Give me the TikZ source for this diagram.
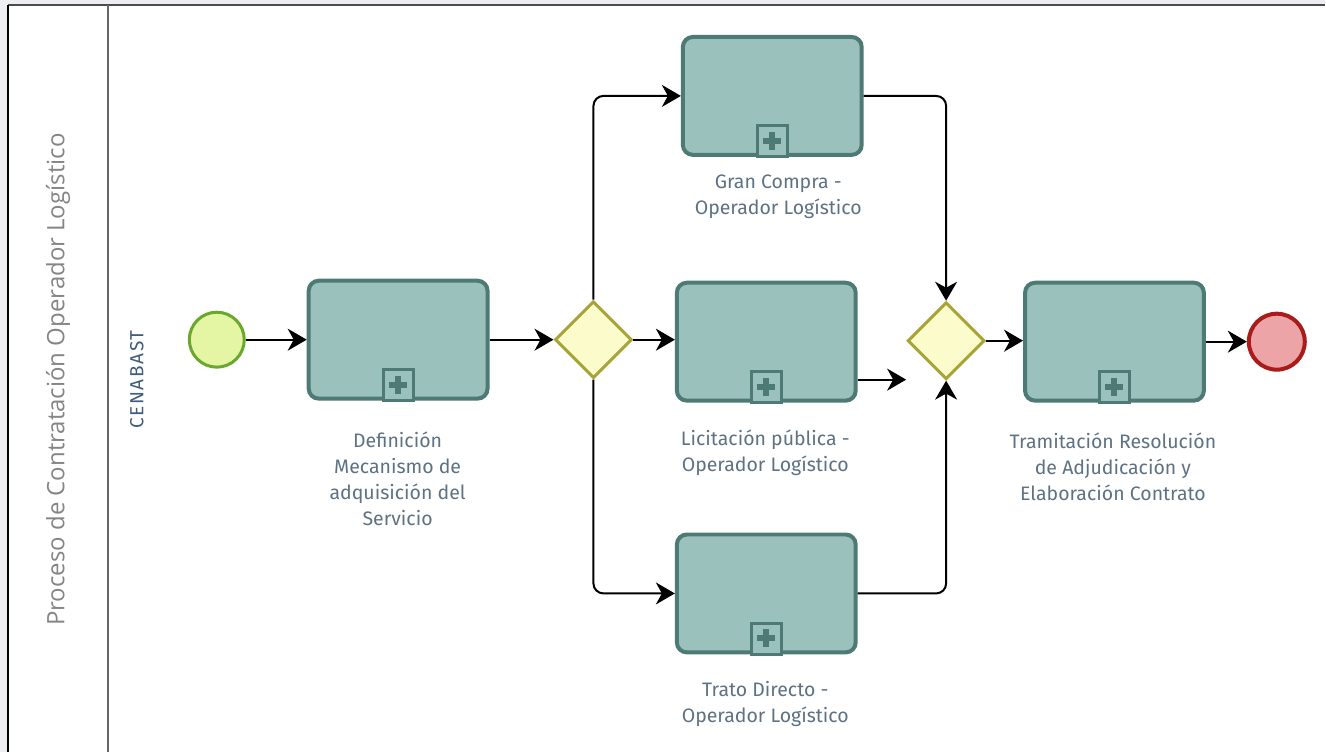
\documentclass[tikz,border=0pt]{standalone}
\usepackage{fontspec}
\setmainfont{Fira Sans}
\newfontfamily\poolfont{Open Sans}
\newfontfamily\lanefont[LetterSpace=9]{Fira Sans}
\usetikzlibrary{arrows.meta,shapes.geometric}

\definecolor{pagebg}{HTML}{ECEEF1}
\definecolor{taskfill}{HTML}{9BC1BC}
\definecolor{taskline}{HTML}{4D7A74}
\definecolor{startfill}{HTML}{E4F5A3}
\definecolor{startline}{HTML}{68A82C}
\definecolor{gwfill}{HTML}{FCFBCB}
\definecolor{gwline}{HTML}{A7A537}
\definecolor{endfill}{HTML}{EDA4A6}
\definecolor{endline}{HTML}{A81C1C}
\definecolor{labelcol}{HTML}{5E7282}
\definecolor{poolcol}{HTML}{858585}
\definecolor{lanecol}{HTML}{3E5C7C}

\tikzset{
  taskbox/.style={rectangle, rounded corners=10pt, draw=taskline, fill=taskfill,
    line width=4pt, minimum width=179pt, minimum height=118pt, inner sep=0pt},
  startev/.style={circle, draw=startline, fill=startfill, line width=3pt,
    minimum size=55pt, inner sep=0pt},
  endev/.style={circle, draw=endline, fill=endfill, line width=4pt,
    minimum size=56pt, inner sep=0pt},
  gateway/.style={diamond, aspect=1, draw=gwline, fill=gwfill, line width=3pt,
    minimum size=77pt, inner sep=0pt},
  tasklabel/.style={align=center, text=labelcol, inner sep=0pt,
    font=\fontsize{19.5}{26}\selectfont},
  flow/.style={draw=black, line width=2pt, rounded corners=10pt,
    -{Stealth[length=19pt,width=22pt,inset=6pt]}},
}

% collapsed sub-process marker at the bottom centre of a task
\newcommand{\subprocmark}[1]{%
  \draw[taskline, line width=3pt, fill=taskfill]
    ([xshift=-15pt]#1.south) rectangle ([xshift=15pt,yshift=31pt]#1.south);
  \fill[taskline] ([xshift=-9pt,yshift=13pt]#1.south) rectangle ([xshift=9pt,yshift=19pt]#1.south);
  \fill[taskline] ([xshift=-3pt,yshift=7pt]#1.south) rectangle ([xshift=3pt,yshift=25pt]#1.south);
}

\begin{document}
\begin{tikzpicture}[x=1pt,y=-1pt]
  % page and pool
  \fill[pagebg] (0,0) rectangle (1326,753);
  \fill[white] (8,5) rectangle (1326,753);
  \draw[draw=black!70, line width=2.5pt] (8,5) -- (1326,5);
  \draw[draw=black, line width=2.5pt] (8,5) -- (8,753);
  \draw[draw=black!60, line width=2pt] (108,5) -- (108,753);
  \useasboundingbox (0,0) rectangle (1326,753);

  % pool and lane titles
  \node[rotate=90, text=poolcol, font=\poolfont\fontsize{24}{28}\selectfont, inner sep=0pt]
    (pooltitle) at (58,380) {Proceso de Contratación Operador Logístico};
  \node[rotate=90, text=lanecol, font=\lanefont\fontsize{19}{22}\selectfont, inner sep=0pt]
    (lanetitle) at (137,380) {CENABAST};

  % flow elements
  \node[startev] (start) at (217,340) {};
  \node[taskbox] (def) at (398.5,340) {};
  \node[gateway] (g1) at (594,340) {};
  \node[taskbox] (gran) at (773,96) {};
  \node[taskbox] (lic) at (767,342) {};
  \node[taskbox] (trato) at (767,594) {};
  \node[gateway] (g2) at (947,341) {};
  \node[taskbox] (tram) at (1115.5,342) {};
  \node[endev] (end) at (1278,342) {};

  \subprocmark{def}
  \subprocmark{gran}
  \subprocmark{lic}
  \subprocmark{trato}
  \subprocmark{tram}

  % task labels
  \node[tasklabel] (deflab) at (398,479) {Definición\\Mecanismo de\\adquisición del\\Servicio};
  \node[tasklabel] (granlab) at (779,197) {Gran Compra -\\Operador Logístico};
  \node[tasklabel] (liclab) at (766,453) {Licitación pública -\\Operador Logístico};
  \node[tasklabel] (tratolab) at (766,705) {Trato Directo -\\Operador Logístico};
  \node[tasklabel] (tramlab) at (1114,467) {Tramitación Resolución\\de Adjudicación y\\Elaboración Contrato};

  % sequence flows
  \coordinate (licend) at (907,380);
  \draw[flow] (start) -- (def);
  \draw[flow] (def) -- (g1);
  \draw[flow] (g1.north) |- (gran.west);
  \draw[flow] (g1.east) -- (lic.west |- g1.east);
  \draw[flow] (g1.south) |- (trato.west);
  \draw[flow] (gran.east) -| (g2.north);
  \draw[flow] (lic.east |- licend) -- (licend);
  \draw[flow] (trato.east) -| (g2.south);
  \draw[flow] (g2.east) -- (tram.west |- g2.east);
  \draw[flow] (tram.east) -- (end.west);
\end{tikzpicture}
\end{document}
